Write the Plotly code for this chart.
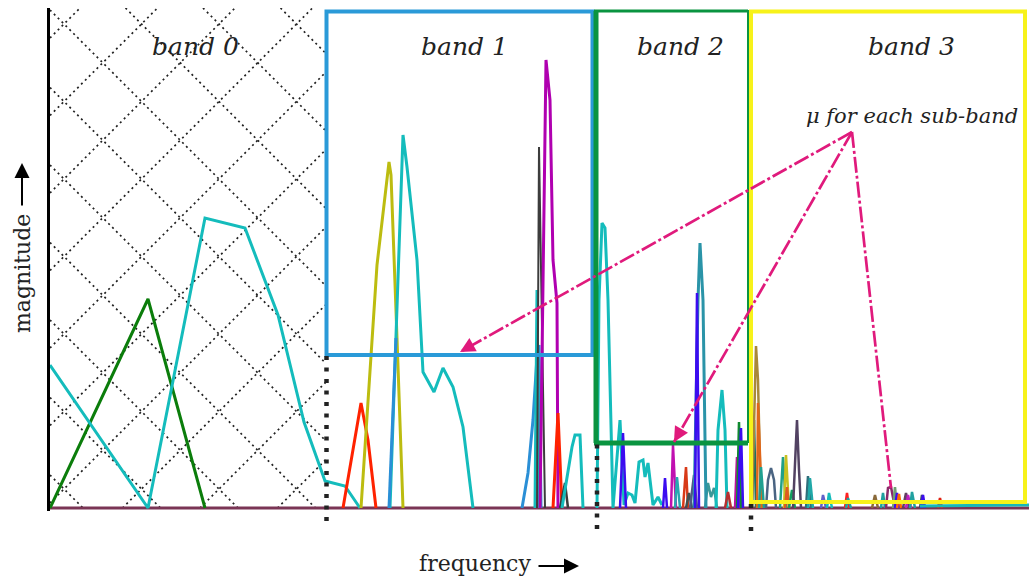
import numpy as np
import plotly.graph_objects as go

# ---------------------------------------------------------------------------
# Spectrum values: frequency bin and magnitude (arbitrary units) per series
# ---------------------------------------------------------------------------
baseline_freq = [0, 979]
baseline_mag = [0, 0]

tail_freq = [870, 979]
tail_mag = [2, 3]

band0_freq = [
    [0, 98, 155],
    [0, 98, 155, 195, 228, 254, 275, 295, 310],
]
band0_mag = [
    [0, 209, 0],
    [143, 0, 290, 280, 193, 86, 27, 22, 0],
]

band1_freq = [
    [293, 311, 318, 326],
    [311, 327, 339, 341, 347, 353],
    [340, 346, 348, 353, 357, 367, 373, 384, 393, 403, 413, 423],
    [339, 346],
    [472, 478, 483, 487, 489, 491],
    [485, 487, 489],
    [487, 489, 495],
    [490, 493, 496, 500, 503, 507, 508],
    [503, 508, 512],
    [510, 515, 518],
    [512, 522, 525, 530, 533],
]
band1_mag = [
    [0, 105, 68, 0],
    [0, 243, 346, 333, 170, 0],
    [0, 170, 246, 373, 341, 248, 136, 116, 140, 121, 81, 0],
    [0, 170],
    [0, 35, 88, 151, 163, 0],
    [0, 218, 0],
    [0, 361, 0],
    [0, 248, 448, 408, 248, 205, 0],
    [0, 95, 0],
    [0, 25, 0],
    [0, 61, 73, 73, 0],
]

band2_freq = [
    [547, 549, 552, 555, 558, 563, 570, 574, 578, 582, 585, 589, 593, 595, 598, 603, 608, 612],
    [570, 573, 576],
    [613, 615, 617],
    [621, 623, 626],
    [625, 627, 630],
    [633, 636, 638],
    [636, 639, 642],
    [640, 644, 647],
    [655, 658, 661, 664, 667],
    [644, 648, 650, 653, 656],
    [645, 647, 649],
    [666, 668, 672, 675, 677],
    [675, 678, 681],
    [685, 687, 689],
    [687, 689, 691],
    [688, 691, 693],
]
band2_mag = [
    [0, 208, 285, 280, 208, 0, 88, 3, 15, 13, 5, 46, 48, 31, 45, 3, 11, 3],
    [0, 75, 0],
    [0, 30, 0],
    [0, 63, 0],
    [0, 31, 0],
    [0, 41, 0],
    [0, 15, 0],
    [0, 33, 0],
    [0, 25, 11, 20, 0],
    [0, 208, 265, 208, 0],
    [0, 215, 0],
    [0, 78, 118, 78, 0],
    [0, 16, 0],
    [0, 51, 0],
    [0, 86, 0],
    [0, 80, 0],
]

band3_freq = [
    [702, 704, 706],
    [702, 706, 708, 711],
    [707, 708, 712],
    [709, 711, 714],
    [716, 718, 721, 724, 726],
    [730, 733, 736],
    [734, 736, 739],
    [735, 737, 739],
    [739, 742, 745],
    [743, 745, 747, 749, 751],
    [756, 758, 761],
    [758, 760, 763],
    [771, 773, 776],
    [777, 779, 782],
    [795, 797, 799],
    [796, 798, 801],
    [822, 825, 828],
    [831, 833, 835],
    [836, 838, 841, 845],
    [843, 845, 847],
    [845, 847, 849],
    [847, 849, 851],
    [853, 856, 859],
    [856, 858, 861],
    [860, 862, 865],
    [870, 872, 874],
    [871, 873, 875],
    [888, 890, 892],
]
band3_mag = [
    [0, 88, 0],
    [0, 162, 128, 0],
    [0, 105, 0],
    [0, 41, 0],
    [0, 28, 40, 28, 0],
    [0, 51, 0],
    [0, 53, 0],
    [0, 21, 0],
    [0, 18, 0],
    [0, 38, 88, 38, 0],
    [0, 32, 0],
    [0, 30, 0],
    [0, 13, 0],
    [0, 15, 0],
    [0, 15, 0],
    [0, 10, 0],
    [0, 13, 0],
    [0, 15, 0],
    [0, 20, 21, 0],
    [0, 21, 0],
    [0, 15, 0],
    [0, 14, 0],
    [0, 15, 0],
    [0, 13, 0],
    [0, 16, 0],
    [0, 13, 0],
    [0, 13, 0],
    [0, 10, 0],
]

band_labels = ["band 0", "band 1", "band 2", "band 3"]
band_label_freq = [145, 414, 630, 861]

# ---------------------------------------------------------------------------
# Styling
# ---------------------------------------------------------------------------
CYAN, BLUE, VIOLET, RED = "#14bcbc", "#2a8fd6", "#3b0cf0", "#ff2200"
band0_colors = ["#0b7d0b", CYAN]
band1_colors = [RED, "#bcbc10", CYAN, BLUE, BLUE, CYAN, "#3c3c3c", "#b000b0",
                RED, "#3c3c3c", CYAN]
band1_widths = [3, 3, 3, 3, 3, 3, 2, 3, 3, 2.5, 3]
band2_colors = [CYAN, VIOLET, VIOLET, "#c010b0", "#28a8b0", "#d83a18", "#405050",
                "#505a80", "#3a9898", "#2a94a8", VIOLET, CYAN, "#b83030",
                "#c010a0", "#108a30", VIOLET]
band2_widths = [3, 2.5, 2.5, 2.5, 2.5, 2.5, 2.5, 2.5, 2.5, 3, 2.5, 3, 2.5, 2.5, 2.5, 2.5]
band3_colors = ["#1f6f60", "#a8883a", "#e0661a", "#20a090", "#4a6482", "#20a088",
                "#c8c020", "#e05a20", "#10a060", "#524262", "#2f6e7a", "#20a8a8",
                "#6060c8", CYAN, "#ff2020", "#20a0a0", "#8a6a3a", "#20a0a0",
                "#8a2a6a", "#70a070", VIOLET, "#ff6a00", "#604060", "#c020c0",
                "#20a0a0", "#405060", VIOLET, "#e02010"]

SERIF = "DejaVu Serif"
PINK = "#e01a7c"
INK = "#222222"

fig = go.Figure()


def add_series(freqs, mags, colors, widths=None):
    for i, (f, m) in enumerate(zip(freqs, mags)):
        w = widths[i] if widths else 3
        fig.add_trace(go.Scatter(x=f, y=m, mode="lines",
                                 line=dict(color=colors[i], width=w),
                                 hoverinfo="skip", showlegend=False))


fig.add_trace(go.Scatter(x=baseline_freq, y=baseline_mag, mode="lines",
                         line=dict(color="#7a3555", width=3),
                         hoverinfo="skip", showlegend=False))
add_series(band0_freq, band0_mag, band0_colors)
add_series(band1_freq, band1_mag, band1_colors, band1_widths)
add_series(band2_freq, band2_mag, band2_colors, band2_widths)
add_series(band3_freq, band3_mag, band3_colors, [2.5] * len(band3_freq))
fig.add_trace(go.Scatter(x=tail_freq, y=tail_mag, mode="lines",
                         line=dict(color="#18b8b8", width=3),
                         hoverinfo="skip", showlegend=False))

shapes = []

# Diagonal dotted cross-hatching over band 0
HATCH_W, HATCH_TOP = 276, 500
period = 77.5
hatch_line = dict(color=INK, width=1.7, dash="2px,3.5px")
for k in range(-8, 5):
    c = 498 + period * k          # lines falling to the right: mag = c - f
    f0, f1 = max(0, c - HATCH_TOP), min(HATCH_W, c)
    if f1 - f0 > 1:
        shapes.append(dict(type="line", x0=f0, y0=c - f0, x1=f1, y1=c - f1,
                           line=hatch_line, layer="below"))
for k in range(-2, 11):
    d = 470 - period * k          # lines rising to the right: mag = f + d
    f0, f1 = max(0, -d), min(HATCH_W, HATCH_TOP - d)
    if f1 - f0 > 1:
        shapes.append(dict(type="line", x0=f0, y0=f0 + d, x1=f1, y1=f1 + d,
                           line=hatch_line, layer="below"))

# Sub-band frames
shapes.append(dict(type="rect", x0=276.5, x1=542.5, y0=153, y1=496.5,
                   line=dict(color="#2a9ad8", width=4)))
GREEN = "#0a9440"
shapes += [
    dict(type="line", x0=546, x1=546, y0=65, y1=497, line=dict(color=GREEN, width=5)),
    dict(type="line", x0=544, x1=698, y0=65, y1=65, line=dict(color=GREEN, width=5)),
    dict(type="line", x0=544, x1=698, y0=497, y1=497, line=dict(color=GREEN, width=3)),
    dict(type="line", x0=698, x1=698, y0=65, y1=498, line=dict(color=GREEN, width=2)),
]
shapes.append(dict(type="rect", x0=701, x1=975, y0=6, y1=496.5,
                   line=dict(color="#f7f21a", width=4)))


def paper_y(mag):
    return (mag + 3) / 503


# Square-dotted drop lines marking the sub-band edges
for fx, top, bottom in [(276.5, 153, -13), (547, 65, -21), (701, 6, -23)]:
    shapes.append(dict(type="line", xref="x", yref="paper", x0=fx, x1=fx,
                       y0=paper_y(bottom), y1=paper_y(top),
                       line=dict(color=INK, width=4.5, dash="4px,7.5px")))

# Dash-dot pointers from the annotation text
mu_src = (802, 376)
pointer_tips = [(410, 156), (624, 66), (841, 20)]
for tip in pointer_tips:
    shapes.append(dict(type="line", x0=mu_src[0], y0=mu_src[1], x1=tip[0], y1=tip[1],
                       line=dict(color=PINK, width=2.7, dash="16px,3px,3px,3px")))

annotations = []
for label, fx in zip(band_labels, band_label_freq):
    annotations.append(dict(x=fx, y=462, xref="x", yref="y", text=label,
                            showarrow=False, xanchor="center", yanchor="middle",
                            font=dict(family=SERIF, size=25, color=INK, style="italic")))
annotations.append(dict(x=862, y=392, xref="x", yref="y", text="μ for each sub-band",
                        showarrow=False, xanchor="center", yanchor="middle",
                        font=dict(family=SERIF, size=21, color=INK, style="italic")))

for tip in pointer_tips[:2]:
    v = np.array(mu_src, float) - np.array(tip, float)
    tail = np.array(tip, float) + 16 * v / np.linalg.norm(v)
    annotations.append(dict(x=tip[0], y=tip[1], ax=float(tail[0]), ay=float(tail[1]),
                            xref="x", yref="y", axref="x", ayref="y", text="",
                            showarrow=True, arrowhead=2, arrowsize=1.2,
                            arrowwidth=2.5, arrowcolor=PINK))

# Axis captions with arrows
annotations.append(dict(x=(475 - 50) / 979, y=(511 - 563) / 503, xref="paper", yref="paper",
                        text="frequency", showarrow=False, xanchor="center", yanchor="middle",
                        font=dict(family=SERIF, size=22, color=INK)))
annotations.append(dict(x=(579 - 50) / 979, y=(511 - 566) / 503, xref="paper", yref="paper",
                        ax=-42, ay=0, text="", showarrow=True, arrowhead=2,
                        arrowsize=1.5, arrowwidth=2, arrowcolor="black"))
annotations.append(dict(x=(22 - 50) / 979, y=(511 - 274) / 503, xref="paper", yref="paper",
                        text="magnitude", textangle=-90, showarrow=False,
                        xanchor="center", yanchor="middle",
                        font=dict(family=SERIF, size=22, color=INK)))
annotations.append(dict(x=(22 - 50) / 979, y=(511 - 163) / 503, xref="paper", yref="paper",
                        ax=0, ay=44, text="", showarrow=True, arrowhead=2,
                        arrowsize=1.5, arrowwidth=2, arrowcolor="black"))

fig.update_layout(
    width=1029, height=580,
    margin=dict(l=50, r=0, t=8, b=69),
    paper_bgcolor="white", plot_bgcolor="white",
    shapes=shapes, annotations=annotations,
    xaxis=dict(range=[0, 979], showgrid=False, zeroline=False, showticklabels=False,
               ticks="", showline=False, fixedrange=True),
    yaxis=dict(range=[-3, 500], showgrid=False, zeroline=False, showticklabels=False,
               ticks="", showline=True, linecolor="black", linewidth=2.5, fixedrange=True),
    showlegend=False,
)

fig.write_html("out.html")
